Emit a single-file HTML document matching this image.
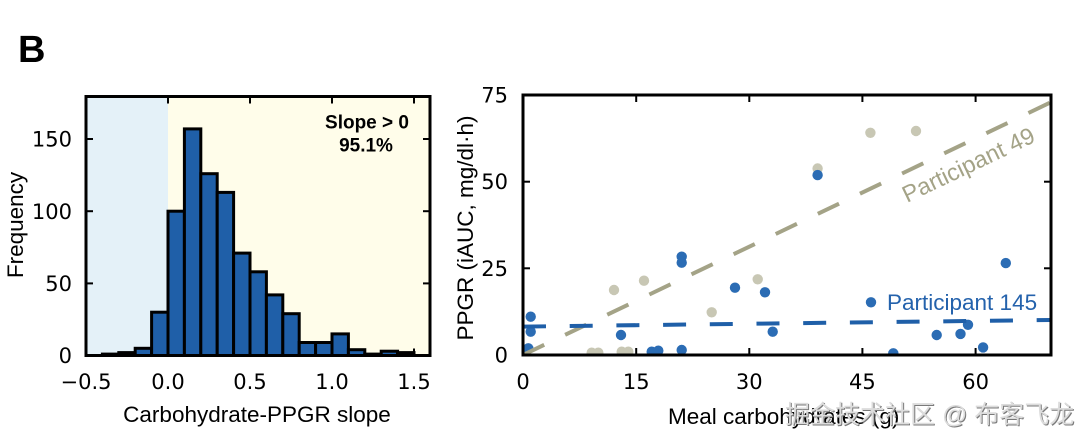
<!DOCTYPE html>
<html><head><meta charset="utf-8"><style>
html,body{margin:0;padding:0;background:#fff;}
svg{display:block;}
.tk{font-family:"DejaVu Sans","Liberation Sans",sans-serif;font-size:21px;fill:#000;}
.lb{font-family:"Liberation Sans",Arial,sans-serif;font-size:22.5px;fill:#000;}
</style></head><body>
<svg width="1090" height="448" viewBox="0 0 1090 448" xmlns="http://www.w3.org/2000/svg">
<rect width="1090" height="448" fill="#fff"/>
<text x="18" y="62" font-family="Liberation Sans, Arial, sans-serif" font-weight="bold" font-size="38" fill="#000">B</text>

<!-- LEFT HISTOGRAM -->
<rect x="86" y="96.5" width="82" height="259" fill="#e4f1f8"/>
<rect x="168" y="96.5" width="262" height="259" fill="#fffdea"/>
<g fill="#1f5fa8" stroke="#000" stroke-width="3" stroke-linejoin="miter">
<rect x="102.4" y="354.1" width="16.4" height="1.4"/>
<rect x="118.8" y="352.6" width="16.4" height="2.9"/>
<rect x="135.2" y="348.3" width="16.4" height="7.2"/>
<rect x="151.6" y="312.2" width="16.4" height="43.3"/>
<rect x="168" y="211.2" width="16.4" height="144.3"/>
<rect x="184.4" y="128.9" width="16.4" height="226.6"/>
<rect x="200.8" y="173.7" width="16.4" height="181.8"/>
<rect x="217.2" y="192.4" width="16.4" height="163.1"/>
<rect x="233.6" y="253.1" width="16.4" height="102.4"/>
<rect x="250" y="271.8" width="16.4" height="83.7"/>
<rect x="266.4" y="294.9" width="16.4" height="60.6"/>
<rect x="282.8" y="313.7" width="16.4" height="41.8"/>
<rect x="299.2" y="342.5" width="16.4" height="13"/>
<rect x="315.6" y="342.5" width="16.4" height="13"/>
<rect x="332" y="333.9" width="16.4" height="21.6"/>
<rect x="348.4" y="349.7" width="16.4" height="5.8"/>
<rect x="364.8" y="354.1" width="16.4" height="1.4"/>
<rect x="381.2" y="351.2" width="16.4" height="4.3"/>
<rect x="397.6" y="352.6" width="16.4" height="2.9"/>
</g>
<g stroke="#000" stroke-width="2">
<line x1="168" y1="96.5" x2="168" y2="103.5"/><line x1="250" y1="96.5" x2="250" y2="103.5"/><line x1="332" y1="96.5" x2="332" y2="103.5"/><line x1="414" y1="96.5" x2="414" y2="103.5"/>
<line x1="168" y1="355.5" x2="168" y2="348.5"/><line x1="250" y1="355.5" x2="250" y2="348.5"/><line x1="332" y1="355.5" x2="332" y2="348.5"/><line x1="414" y1="355.5" x2="414" y2="348.5"/>
<line x1="86" y1="283.4" x2="93" y2="283.4"/><line x1="86" y1="211.2" x2="93" y2="211.2"/><line x1="86" y1="139" x2="93" y2="139"/>
<line x1="430" y1="283.4" x2="423" y2="283.4"/><line x1="430" y1="211.2" x2="423" y2="211.2"/><line x1="430" y1="139" x2="423" y2="139"/>
</g>
<rect x="86" y="96.5" width="344" height="259" fill="none" stroke="#000" stroke-width="3"/>
<text x="367" y="128.5" text-anchor="middle" font-family="Liberation Sans, Arial, sans-serif" font-weight="bold" font-size="19">Slope &gt; 0</text>
<text x="366" y="151.5" text-anchor="middle" font-family="Liberation Sans, Arial, sans-serif" font-weight="bold" font-size="19">95.1%</text>
<g class="tk" text-anchor="middle">
<text x="86" y="389">−0.5</text><text x="168" y="389">0.0</text><text x="250" y="389">0.5</text><text x="332" y="389">1.0</text><text x="414" y="389">1.5</text>
</g>
<g class="tk" text-anchor="end">
<text x="72" y="363">0</text><text x="72" y="291">50</text><text x="72" y="219">100</text><text x="72" y="146.6">150</text>
</g>
<text class="lb" x="257" y="422" text-anchor="middle">Carbohydrate-PPGR slope</text>
<text class="lb" transform="translate(23,225) rotate(-90)" text-anchor="middle">Frequency</text>

<!-- RIGHT SCATTER -->
<defs><clipPath id="cp"><rect x="523" y="95" width="528" height="260"/></clipPath></defs>
<g clip-path="url(#cp)">
<g fill="#c8c7b4">
<circle cx="614" cy="290" r="5.2"/><circle cx="644" cy="280.7" r="5.2"/><circle cx="711.7" cy="312.3" r="5.2"/><circle cx="757.7" cy="279.3" r="5.2"/>
<circle cx="591.7" cy="352.7" r="5.2"/><circle cx="598.3" cy="352.7" r="5.2"/><circle cx="621.7" cy="351.7" r="5.2"/><circle cx="628.3" cy="351.7" r="5.2"/>
<circle cx="817.6" cy="168.5" r="5.2"/><circle cx="870.4" cy="132.8" r="5.2"/><circle cx="916" cy="131" r="5.2"/>
</g>
<g fill="#2b6cb4">
<circle cx="530.7" cy="316.7" r="5.2"/><circle cx="530.7" cy="331.7" r="5.2"/><circle cx="528.3" cy="348.3" r="5.2"/><circle cx="621" cy="335" r="5.2"/>
<circle cx="651.7" cy="351.7" r="5.2"/><circle cx="658.3" cy="350.7" r="5.2"/><circle cx="681.7" cy="350" r="5.2"/><circle cx="681.7" cy="256.7" r="5.2"/>
<circle cx="681.7" cy="262.7" r="5.2"/><circle cx="735" cy="287.7" r="5.2"/><circle cx="765" cy="292.3" r="5.2"/><circle cx="772.7" cy="331.7" r="5.2"/>
<circle cx="893.3" cy="353.3" r="5.2"/><circle cx="936.7" cy="335" r="5.2"/><circle cx="960.5" cy="333.9" r="5.2"/><circle cx="968" cy="324.8" r="5.2"/>
<circle cx="983.1" cy="347.4" r="5.2"/><circle cx="1005.8" cy="263.1" r="5.2"/><circle cx="817.6" cy="175.1" r="5.2"/>
<circle cx="871" cy="302.3" r="5.2"/>
</g>
<line x1="523" y1="355" x2="1051" y2="102.2" stroke="#a4a387" stroke-width="4" stroke-dasharray="23.5 23.2"/>
<line x1="523" y1="326.6" x2="1051" y2="320" stroke="#1f5fa8" stroke-width="4" stroke-dasharray="23 23.7"/>
</g>
<g stroke="#000" stroke-width="2">
<line x1="636.2" y1="95" x2="636.2" y2="102"/><line x1="749.3" y1="95" x2="749.3" y2="102"/><line x1="862.4" y1="95" x2="862.4" y2="102"/><line x1="975.6" y1="95" x2="975.6" y2="102"/>
<line x1="636.2" y1="355" x2="636.2" y2="348"/><line x1="749.3" y1="355" x2="749.3" y2="348"/><line x1="862.4" y1="355" x2="862.4" y2="348"/><line x1="975.6" y1="355" x2="975.6" y2="348"/>
<line x1="523" y1="268.3" x2="530" y2="268.3"/><line x1="523" y1="181.7" x2="530" y2="181.7"/>
<line x1="1051" y1="268.3" x2="1044" y2="268.3"/><line x1="1051" y1="181.7" x2="1044" y2="181.7"/>
</g>
<rect x="523" y="95" width="528" height="260" fill="none" stroke="#000" stroke-width="3"/>
<text transform="translate(907,203) rotate(-25.5)" font-family="Liberation Sans, Arial, sans-serif" font-size="23.5" fill="#a4a387">Participant 49</text>
<text x="887" y="310" font-family="Liberation Sans, Arial, sans-serif" font-size="22.5" fill="#2462ac">Participant 145</text>
<g class="tk" text-anchor="middle">
<text x="523" y="389">0</text><text x="636.2" y="389">15</text><text x="749.3" y="389">30</text><text x="862.4" y="389">45</text><text x="975.6" y="389">60</text>
</g>
<g class="tk" text-anchor="end">
<text x="508" y="362.5">0</text><text x="508" y="275.8">25</text><text x="508" y="189.2">50</text><text x="508" y="102.5">75</text>
</g>
<text class="lb" transform="translate(473,228) rotate(-90)" text-anchor="middle" font-size="23">PPGR (iAUC, mg/dl·h)</text>
<text class="lb" x="668" y="424">Meal carbohydrates (g)</text>
<text x="786" y="424" font-family="Liberation Sans, 'Noto Sans CJK SC', sans-serif" font-size="25" fill="#7a7a7a">掘金技术社区 @ 布客飞龙</text>
<text x="785" y="423" font-family="Liberation Sans, 'Noto Sans CJK SC', sans-serif" font-size="25" fill="#dcdcdc">掘金技术社区 @ 布客飞龙</text>
</svg>
</body></html>
